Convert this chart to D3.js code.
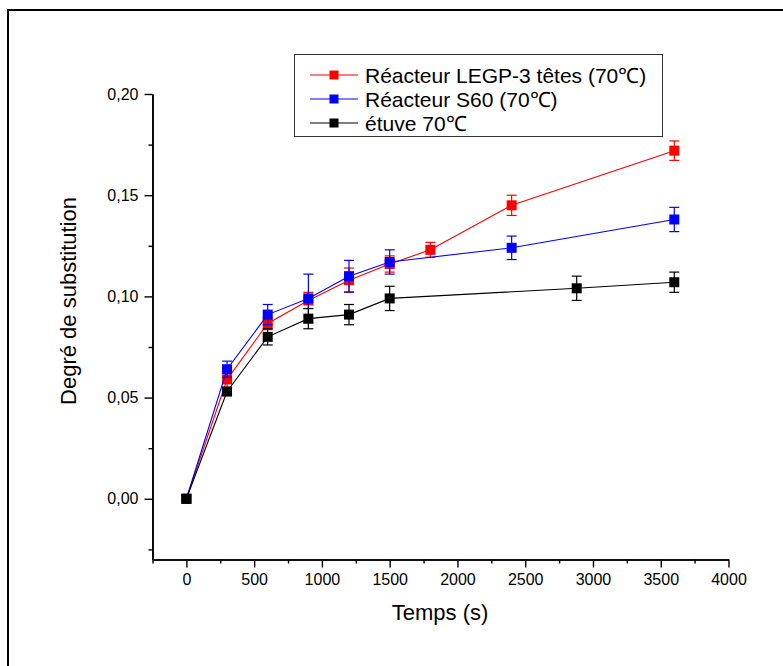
<!DOCTYPE html>
<html>
<head>
<meta charset="utf-8">
<script src="https://cdn.jsdelivr.net/npm/d3@7"></script>
<style>
  html, body { margin: 0; padding: 0; background: #fff; }
  svg { display: block; font-family: Arial, "Liberation Sans", sans-serif; }
</style>
</head>
<body>
<svg id="chart" width="783" height="666"></svg>
<script>
// ---------- data ----------
const seriesNames = ["Réacteur LEGP-3 têtes (70℃)", "Réacteur S60 (70℃)", "étuve 70℃"];
const seriesColors = ["#ff0000", "#0000ff", "#000000"];

const redTimes = [0, 300, 600, 900, 1200, 1500, 1800, 2400, 3600];
const redValues = [0, 0.059, 0.0866, 0.098, 0.108, 0.116, 0.123, 0.145, 0.172];
const redErrors = [0, 0.004, 0.003, 0.004, 0.006, 0.004, 0.0037, 0.005, 0.0048];

const blueTimes = [0, 300, 600, 900, 1200, 1500, 2400, 3600];
const blueValues = [0, 0.064, 0.091, 0.099, 0.110, 0.117, 0.124, 0.138];
const blueErrors = [0, 0.004, 0.005, 0.012, 0.0078, 0.006, 0.0058, 0.006];

const blackTimes = [0, 300, 600, 900, 1200, 1500, 2880, 3600];
const blackValues = [0, 0.053, 0.080, 0.089, 0.091, 0.099, 0.104, 0.107];
const blackErrors = [0, 0.002, 0.004, 0.005, 0.005, 0.006, 0.006, 0.005];

const xTickValues = [0, 500, 1000, 1500, 2000, 2500, 3000, 3500, 4000];
const xMinorTicks = [-250, 250, 750, 1250, 1750, 2250, 2750, 3250, 3750];
const yTickValues = [0, 0.05, 0.10, 0.15, 0.20];
const yMinorTicks = [-0.025, 0.025, 0.075, 0.125, 0.175];

const xTitle = "Temps (s)";
const yTitle = "Degré de substitution";

// ---------- build ----------
const svg = d3.select("#chart");
const FONT = "Arial, 'Liberation Sans', sans-serif";

// outer frame
svg.append("rect")
  .attr("x", 8).attr("y", 10)
  .attr("width", 800).attr("height", 700)
  .attr("fill", "none").attr("stroke", "#000").attr("stroke-width", 2);

const x = d3.scaleLinear().domain([-250, 4000]).range([152.5, 728.5]);
const y = d3.scaleLinear().domain([-0.03, 0.20]).range([559.5, 94]);

const fmt = d => d3.format(".2f")(d).replace(".", ",");

// axes: minor ticks in their own groups
const xMinorG = svg.append("g").attr("transform", `translate(0,${y(-0.03)})`)
  .call(d3.axisBottom(x).tickValues(xMinorTicks).tickSize(4).tickSizeOuter(0).tickFormat(""));
const xAxisG = svg.append("g").attr("transform", `translate(0,${y(-0.03)})`)
  .call(d3.axisBottom(x).tickValues(xTickValues).tickSize(8).tickSizeOuter(0).tickPadding(6).tickFormat(d3.format("d")));

const yMinorG = svg.append("g").attr("transform", `translate(${x(-250)},0)`)
  .call(d3.axisLeft(y).tickValues(yMinorTicks).tickSize(4).tickSizeOuter(0).tickFormat(""));
const yAxisG = svg.append("g").attr("transform", `translate(${x(-250)},0)`)
  .call(d3.axisLeft(y).tickValues(yTickValues).tickSize(8).tickSizeOuter(0).tickPadding(6).tickFormat(fmt));

[xMinorG, xAxisG, yMinorG, yAxisG].forEach(g => {
  g.attr("font-size", 16).attr("font-family", FONT);
  g.selectAll("path.domain").attr("stroke", "#000").attr("stroke-width", 1.6);
  g.selectAll(".tick line").attr("stroke", "#000").attr("stroke-width", 1.4);
  g.selectAll(".tick text").attr("fill", "#000");
});

// titles
svg.append("text").attr("x", 440).attr("y", 620)
  .attr("text-anchor", "middle").attr("font-size", 22).attr("font-family", FONT).text(xTitle);
svg.append("text")
  .attr("transform", `translate(76,${301}) rotate(-90)`)
  .attr("text-anchor", "middle").attr("font-size", 22).attr("font-family", FONT).text(yTitle);

// series
const series = [
  { t: redTimes, v: redValues, e: redErrors, c: seriesColors[0] },
  { t: blueTimes, v: blueValues, e: blueErrors, c: seriesColors[1] },
  { t: blackTimes, v: blackValues, e: blackErrors, c: seriesColors[2] }
];

const line = d3.line().x(d => x(d.t)).y(d => y(d.v));
const sq = 10, cap = 5;

series.forEach(s => {
  const pts = s.t.map((t, i) => ({ t, v: s.v[i], e: s.e[i] }));
  const g = svg.append("g");
  g.append("path").datum(pts).attr("d", line)
    .attr("fill", "none").attr("stroke", s.c).attr("stroke-width", 1.1);
  const eb = g.selectAll(".eb").data(pts.filter(d => d.e > 0)).enter().append("g");
  eb.append("line").attr("x1", d => x(d.t)).attr("x2", d => x(d.t))
    .attr("y1", d => y(d.v + d.e)).attr("y2", d => y(d.v - d.e))
    .attr("stroke", s.c).attr("stroke-width", 1.2);
  eb.append("line").attr("x1", d => x(d.t) - cap).attr("x2", d => x(d.t) + cap)
    .attr("y1", d => y(d.v + d.e)).attr("y2", d => y(d.v + d.e))
    .attr("stroke", s.c).attr("stroke-width", 1.2);
  eb.append("line").attr("x1", d => x(d.t) - cap).attr("x2", d => x(d.t) + cap)
    .attr("y1", d => y(d.v - d.e)).attr("y2", d => y(d.v - d.e))
    .attr("stroke", s.c).attr("stroke-width", 1.2);
  g.selectAll("rect").data(pts).enter().append("rect")
    .attr("x", d => x(d.t) - sq / 2).attr("y", d => y(d.v) - sq / 2)
    .attr("width", sq).attr("height", sq).attr("fill", s.c);
});

// legend
const lg = svg.append("g");
lg.append("rect").attr("x", 294.5).attr("y", 54.5).attr("width", 368).attr("height", 82)
  .attr("fill", "#fff").attr("stroke", "#333").attr("stroke-width", 1);
seriesNames.forEach((name, i) => {
  const cy = 75 + i * 24;
  lg.append("line").attr("x1", 310).attr("x2", 358).attr("y1", cy).attr("y2", cy)
    .attr("stroke", seriesColors[i]).attr("stroke-width", 1.1);
  lg.append("rect").attr("x", 334 - 4.5).attr("y", cy - 4.5).attr("width", 9).attr("height", 9)
    .attr("fill", seriesColors[i]);
  lg.append("text").attr("x", 365).attr("y", cy).attr("dy", "0.36em")
    .attr("font-size", 21).attr("font-family", FONT).text(name);
});
</script>
</body>
</html>
